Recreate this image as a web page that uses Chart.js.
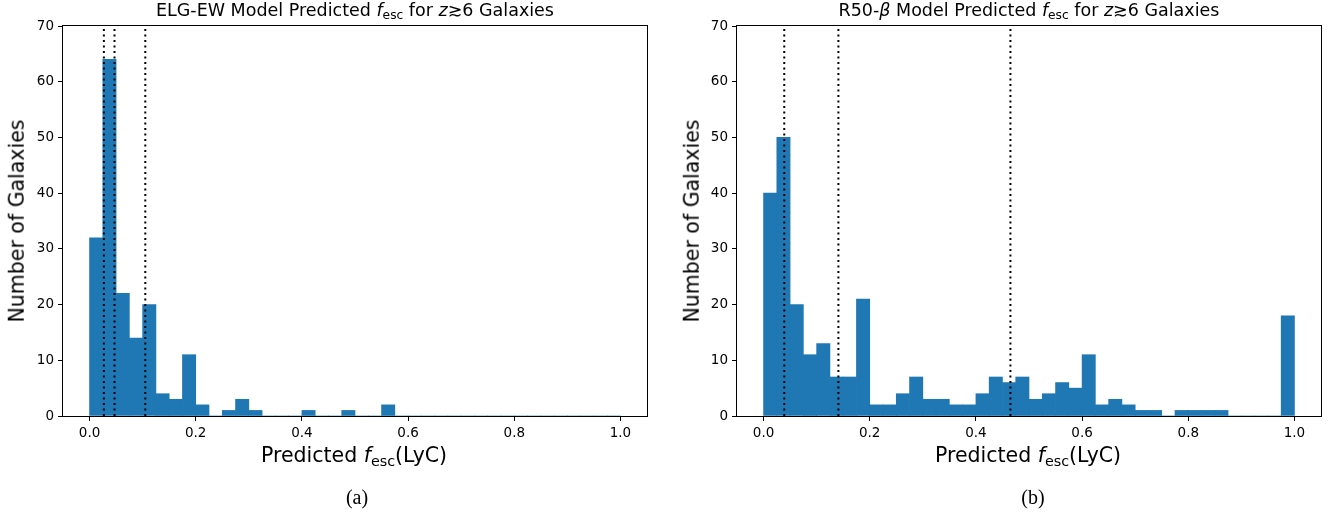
<!DOCTYPE html>
<html>
<head>
<meta charset="utf-8">
<script src="https://cdn.jsdelivr.net/npm/chart.js@4.4.1/dist/chart.umd.min.js"></script>
<style>
  html, body { margin:0; padding:0; background:#fff; overflow:hidden; }
  body { width:1338px; height:516px; position:relative; font-family:"DejaVu Sans", sans-serif; }
  .box { position:absolute; top:0; width:660px; height:516px; }
  .lbl { position:absolute; white-space:nowrap; color:#000; transform:translate(-50%,-50%); line-height:1; }
  .title { font-size:17.5px; }
  .axt { font-size:20.5px; }
  .rot { transform:translate(-50%,-50%) rotate(-90deg); }
  .cap { font-family:"Liberation Serif","DejaVu Serif",serif; font-size:20px; }
  i { font-style:italic; }
  .sb { font-size:70%; position:relative; top:0.28em; }
</style>
</head>
<body>
<div class="box" style="left:0px"><canvas id="c1"></canvas></div>
<div class="box" style="left:674px"><canvas id="c2"></canvas></div>

<div class="lbl title" style="left:355px; top:11px">ELG-EW Model Predicted <i>f</i><span class="sb">esc</span> for <i>z</i>≳6 Galaxies</div>
<div class="lbl title" style="left:1029px; top:11px">R50-<i>β</i> Model Predicted <i>f</i><span class="sb">esc</span> for <i>z</i>≳6 Galaxies</div>
<div class="lbl axt" style="left:354px; top:455px">Predicted <i>f</i><span class="sb">esc</span>(LyC)</div>
<div class="lbl axt" style="left:1028px; top:455px">Predicted <i>f</i><span class="sb">esc</span>(LyC)</div>
<div class="lbl axt rot" style="left:17px; top:221px">Number of Galaxies</div>
<div class="lbl axt rot" style="left:692px; top:221px">Number of Galaxies</div>
<div class="lbl cap" style="left:357px; top:497px">(a)</div>
<div class="lbl cap" style="left:1033px; top:497px">(b)</div>

<script>
// Histogram bins: 40 bins of width 0.025 from 0 to 1
const binWidth = 0.025;
const binStarts = Array.from({length: 40}, (_, i) => i * binWidth);

// Counts per bin
const countsELG = [32,64,22,14,20,4,3,11,2,0, 1,3,1,0,0,0,1,0,0,1, 0,0,2,0,0,0,0,0,0,0, 0,0,0,0,0,0,0,0,0,0];
const countsR50 = [40,50,20,11,13,7,7,21,2,2, 4,7,3,3,2,2,4,7,6,7, 3,4,6,5,11,2,3,2,1,1, 0,1,1,1,1,0,0,0,0,18];

// Dotted vertical reference lines (percentiles)
const linesELG = [0.027, 0.047, 0.105];
const linesR50 = [0.039, 0.141, 0.465];

// Tick labels
const xTicks = [0.0, 0.2, 0.4, 0.6, 0.8, 1.0];
const yTicks = [0, 10, 20, 30, 40, 50, 60, 70];

const frame = {
  id: 'frame',
  afterDraw(chart) {
    const a = chart.chartArea, ctx = chart.ctx;
    ctx.save();
    ctx.strokeStyle = '#000';
    ctx.lineWidth = 1;
    ctx.strokeRect(a.left - 0.5, a.top - 0.5, a.right - a.left + 1, a.bottom - a.top + 1);
    ctx.restore();
  }
};

function makeChart(id, counts, vlines) {
  const datasets = [{
    type: 'bar',
    data: binStarts.map((s, i) => ({x: s + binWidth / 2, y: counts[i]})),
    backgroundColor: '#1f77b4',
    borderWidth: 0,
    barPercentage: 1.0,
    categoryPercentage: 1.0,
    order: 2
  }];
  vlines.forEach(v => datasets.push({
    type: 'line',
    data: [{x: v, y: 0}, {x: v, y: 70}],
    borderColor: '#000',
    borderWidth: 2,
    borderDash: [2, 3.5],
    pointRadius: 0,
    fill: false,
    order: 1
  }));
  const tickFont = {family: 'DejaVu Sans', size: 13.5};
  return new Chart(document.getElementById(id), {
    type: 'bar',
    data: {datasets},
    plugins: [frame],
    options: {
      responsive: true,
      maintainAspectRatio: false,
      animation: false,
      events: [],
      layout: {padding: {left: 0, right: 13, top: 26, bottom: 0}},
      plugins: {legend: {display: false}, tooltip: {enabled: false}, title: {display: false}},
      scales: {
        x: {
          type: 'linear',
          min: -0.05, max: 1.05,
          offset: false,
          grid: {display: true, drawOnChartArea: false, drawTicks: true, tickLength: 5, color: '#000', offset: false},
          border: {display: false},
          afterBuildTicks: s => { s.ticks = xTicks.map(v => ({value: v})); },
          afterFit: s => { s.height = 100; },
          ticks: {color: '#000', font: tickFont, padding: 4, maxRotation: 0,
                  callback: v => Number(v).toFixed(1)}
        },
        y: {
          type: 'linear',
          min: 0, max: 70,
          grid: {display: true, drawOnChartArea: false, drawTicks: true, tickLength: 5, color: '#000'},
          border: {display: false},
          afterBuildTicks: s => { s.ticks = yTicks.map(v => ({value: v})); },
          afterFit: s => { s.width = 63; },
          ticks: {color: '#000', font: tickFont, padding: 4, callback: v => String(v)}
        }
      }
    }
  });
}

makeChart('c1', countsELG, linesELG);
makeChart('c2', countsR50, linesR50);
</script>
</body>
</html>
